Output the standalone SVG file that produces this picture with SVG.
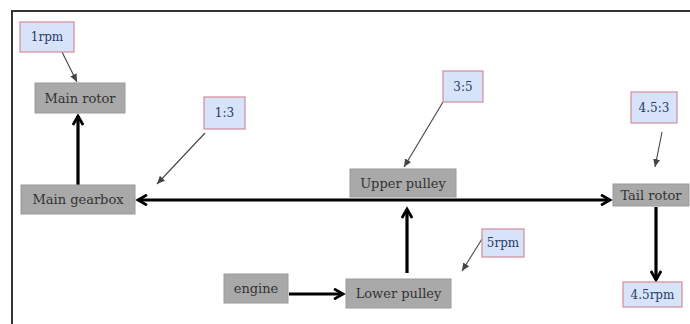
<svg xmlns="http://www.w3.org/2000/svg" width="690" height="324" viewBox="0 0 690 324" font-family="'DejaVu Serif', 'Liberation Serif', serif">
<style>
.node rect{fill:#a9a9a9;stroke:#9a9a9a;stroke-width:1}
.node text{font-family:'DejaVu Serif','Liberation Serif',serif;font-size:13px;fill:#333;text-anchor:middle}
.note rect{fill:#d6e3f8;stroke:#d48a9a;stroke-width:1.2}
.note text{font-family:'DejaVu Serif','Liberation Serif',serif;font-size:12px;fill:#2a3a6a;text-anchor:middle}
.thick{stroke:#000;stroke-width:3.2;fill:none}
.thin{stroke:#444;stroke-width:1.1;fill:none}
</style>
<defs>
<marker id="ah" viewBox="0 0 10 10" refX="8" refY="5" markerWidth="4" markerHeight="4" orient="auto-start-reverse" markerUnits="strokeWidth">
<path d="M1,1 L8,5 L1,9" fill="none" stroke="#000" stroke-width="2.2"/>
</marker>
<marker id="as" viewBox="0 0 10 10" refX="9" refY="5" markerWidth="8" markerHeight="8" orient="auto" markerUnits="strokeWidth">
<path d="M0,1 L9,5 L0,9 Z" fill="#444"/>
</marker>
</defs>
<rect width="690" height="324" fill="#fff"/>
<rect x="12" y="11" width="720" height="400" fill="none" stroke="#333" stroke-width="2"/>
<g id="connectors">
<line class="thick" x1="78" y1="185" x2="78" y2="116" marker-end="url(#ah)"/>
<line class="thick" x1="138" y1="200" x2="610" y2="200" marker-start="url(#ah)" marker-end="url(#ah)"/>
<line class="thick" x1="407" y1="273" x2="407" y2="209" marker-end="url(#ah)"/>
<line class="thick" x1="289" y1="294" x2="343" y2="294" marker-end="url(#ah)"/>
<line class="thick" x1="656" y1="207" x2="656" y2="280" marker-end="url(#ah)"/>
<line class="thin" x1="62" y1="52" x2="77" y2="82" marker-end="url(#as)"/>
<line class="thin" x1="205" y1="133" x2="157" y2="184" marker-end="url(#as)"/>
<line class="thin" x1="443" y1="102" x2="404" y2="167" marker-end="url(#as)"/>
<line class="thin" x1="482" y1="239" x2="462" y2="271" marker-end="url(#as)"/>
<line class="thin" x1="662" y1="132" x2="655" y2="167" marker-end="url(#as)"/>
</g>
<g id="main-rotor" class="node"><rect x="35" y="83" width="90" height="30"/><text x="80" y="103">Main rotor</text></g>
<g id="main-gearbox" class="node"><rect x="21" y="185" width="114" height="29"/><text x="78" y="204">Main gearbox</text></g>
<g id="upper-pulley" class="node"><rect x="350" y="169" width="106" height="28"/><text x="403" y="188">Upper pulley</text></g>
<g id="engine" class="node"><rect x="224" y="274" width="64" height="29"/><text x="256" y="293">engine</text></g>
<g id="lower-pulley" class="node"><rect x="346" y="279" width="105" height="29"/><text x="398.5" y="298">Lower pulley</text></g>
<g id="tail-rotor" class="node"><rect x="613" y="184" width="76" height="22"/><text x="651" y="200">Tail rotor</text></g>
<g id="note-1rpm" class="note"><rect x="20" y="22" width="54" height="30"/><text x="47" y="41">1rpm</text></g>
<g id="note-1-3" class="note"><rect x="204" y="97" width="41" height="32"/><text x="224.5" y="117">1:3</text></g>
<g id="note-3-5" class="note"><rect x="443" y="71" width="40" height="31"/><text x="463" y="90.5">3:5</text></g>
<g id="note-5rpm" class="note"><rect x="482" y="229" width="42" height="28"/><text x="503" y="247">5rpm</text></g>
<g id="note-4-5-3" class="note"><rect x="631" y="92" width="46" height="31"/><text x="654" y="111.5">4.5:3</text></g>
<g id="note-4-5rpm" class="note"><rect x="623" y="282" width="59" height="25"/><text x="652.5" y="298.5">4.5rpm</text></g>
</svg>
